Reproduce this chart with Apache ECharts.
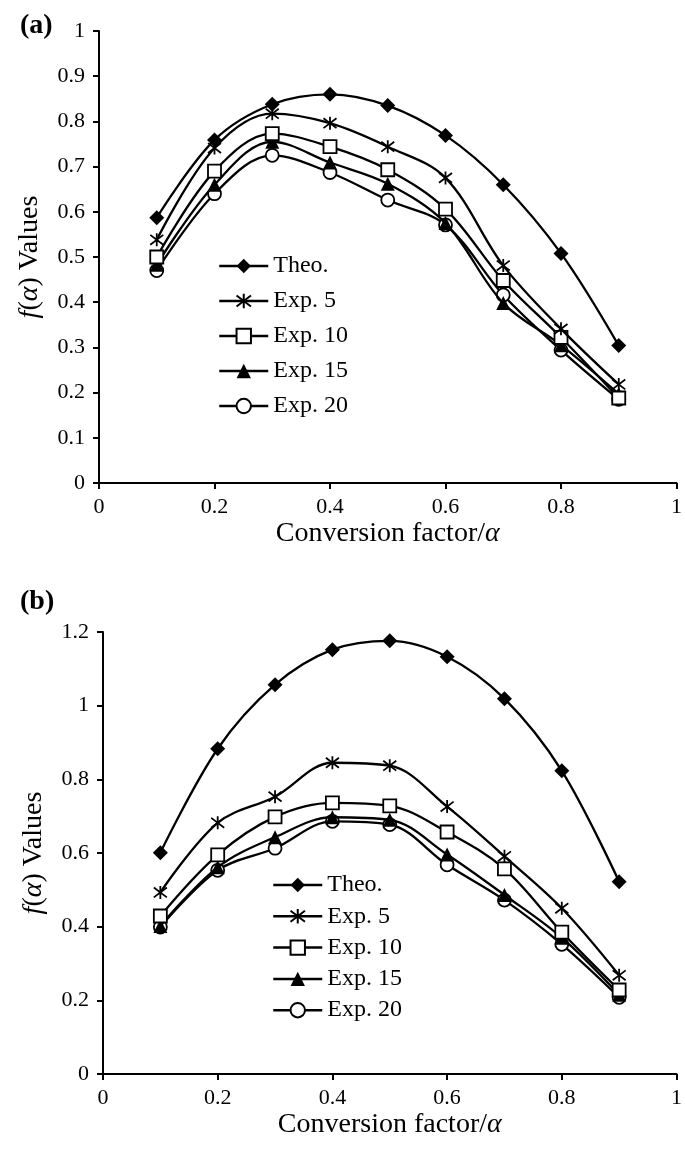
<!DOCTYPE html>
<html>
<head>
<meta charset="utf-8">
<script src="https://cdn.jsdelivr.net/npm/echarts@6/dist/echarts.min.js"></script>
<style>
html,body{margin:0;padding:0;background:#fff;}
#chart{width:685px;height:1159px;}
</style>
</head>
<body>
<div id="chart"></div>
<script>
// ---- data ----
const alphaValues = [0.1, 0.2, 0.3, 0.4, 0.5, 0.6, 0.7, 0.8, 0.9];
const seriesNames = ['Theo.', 'Exp. 5', 'Exp. 10', 'Exp. 15', 'Exp. 20'];

// Panel (a)
const aTheo  = [0.587, 0.759, 0.838, 0.860, 0.835, 0.769, 0.660, 0.508, 0.304];
const aExp5  = [0.538, 0.741, 0.817, 0.796, 0.744, 0.675, 0.481, 0.341, 0.218];
const aExp10 = [0.500, 0.690, 0.773, 0.744, 0.693, 0.606, 0.448, 0.322, 0.188];
const aExp15 = [0.483, 0.660, 0.755, 0.709, 0.662, 0.575, 0.398, 0.305, 0.197];
const aExp20 = [0.470, 0.640, 0.725, 0.687, 0.626, 0.571, 0.416, 0.294, 0.185];

// Panel (b)
const bTheo  = [0.601, 0.883, 1.057, 1.152, 1.176, 1.133, 1.019, 0.823, 0.522];
const bExp5  = [0.493, 0.682, 0.753, 0.845, 0.837, 0.726, 0.591, 0.450, 0.268];
const bExp10 = [0.429, 0.595, 0.698, 0.736, 0.728, 0.657, 0.557, 0.385, 0.228];
const bExp15 = [0.402, 0.561, 0.643, 0.697, 0.690, 0.596, 0.486, 0.370, 0.215];
const bExp20 = [0.399, 0.553, 0.613, 0.686, 0.677, 0.568, 0.472, 0.352, 0.208];

const xTitleText = 'Conversion factor/';
const yTitleText = 'Values';

// ---- styles ----
const FONT = 'Liberation Serif';
const asterisk = 'path://M5,0L5,10M1.2,1.2L8.8,8.8M8.8,1.2L1.2,8.8';
const markerStyles = [
  {symbol: 'diamond', symbolSize: 15, itemStyle: {color: '#000'}},
  {symbol: asterisk, symbolSize: 13, itemStyle: {color: '#000', borderColor: '#000', borderWidth: 1.8}},
  {symbol: 'rect', symbolSize: 13, itemStyle: {color: '#fff', borderColor: '#000', borderWidth: 1.8}},
  {symbol: 'triangle', symbolSize: 14, itemStyle: {color: '#000'}},
  {symbol: 'circle', symbolSize: 13, itemStyle: {color: '#fff', borderColor: '#000', borderWidth: 1.8}}
];

function pairs(vals) { return alphaValues.map((x, i) => [x, vals[i]]); }

function makeSeries(dataSets, gridIdx) {
  return dataSets.map((vals, i) => Object.assign({
    name: seriesNames[i],
    type: 'line',
    xAxisIndex: gridIdx,
    yAxisIndex: gridIdx,
    data: pairs(vals),
    smooth: 0.35,
    showAllSymbol: true,
    lineStyle: {color: '#000', width: 2.3},
    emphasis: {disabled: true},
    z: 10 - i
  }, markerStyles[i]));
}

const axisLineStyle = {show: true, lineStyle: {color: '#000', width: 2}};
const tickStyle = {show: true, inside: false, length: 6, lineStyle: {color: '#000', width: 2}};
const labelStyle = {color: '#000', fontFamily: FONT, fontSize: 22};
const titleRich = {
  i: {fontFamily: FONT, fontStyle: 'italic', fontSize: 28, color: '#000'},
  n: {fontFamily: FONT, fontSize: 28, color: '#000'}
};

function xAxis(gridIdx) {
  return {
    type: 'value', gridIndex: gridIdx, min: 0, max: 1, interval: 0.2,
    axisLine: axisLineStyle, axisTick: tickStyle, splitLine: {show: false},
    axisLabel: Object.assign({margin: 13}, labelStyle),
    name: '{n|' + xTitleText + '}{i|α}',
    nameLocation: 'middle', nameGap: 37,
    nameTextStyle: {rich: titleRich}
  };
}
function yAxis(gridIdx, max, interval) {
  return {
    type: 'value', gridIndex: gridIdx, min: 0, max: max, interval: interval,
    axisLine: axisLineStyle, axisTick: tickStyle, splitLine: {show: false},
    axisLabel: Object.assign({margin: 14}, labelStyle),
    name: '{i|f}{n|(}{i|α}{n|) ' + yTitleText + '}',
    nameLocation: 'middle', nameGap: 55, nameRotate: 90,
    nameTextStyle: {rich: titleRich}
  };
}

function legend(left, top, gap) {
  return {
    orient: 'vertical', left: left, top: top, padding: 0,
    itemWidth: 49, itemHeight: 18, itemGap: gap,
    selectedMode: false,
    data: seriesNames,
    lineStyle: {width: 2.5},
    textStyle: {fontFamily: FONT, fontSize: 24, color: '#000', lineHeight: 24, padding: [0, 0, 0, 0]}
  };
}

const chart = echarts.init(document.getElementById('chart'), null, {renderer: 'canvas'});
chart.setOption({
  backgroundColor: '#fff',
  animation: false,
  grid: [
    {left: 99, top: 31, width: 578, height: 452},
    {left: 103, top: 632, width: 574, height: 442}
  ],
  xAxis: [xAxis(0), xAxis(1)],
  yAxis: [yAxis(0, 1, 0.1), yAxis(1, 1.2, 0.2)],
  legend: [legend(218, 254, 11), legend(272, 873, 7.3)],
  graphic: [
    {type: 'text', left: 20, top: 12, style: {text: '(a)', font: 'bold 28px "Liberation Serif"', fill: '#000'}},
    {type: 'text', left: 20, top: 588, style: {text: '(b)', font: 'bold 28px "Liberation Serif"', fill: '#000'}}
  ],
  series: makeSeries([aTheo, aExp5, aExp10, aExp15, aExp20], 0)
    .concat(makeSeries([bTheo, bExp5, bExp10, bExp15, bExp20], 1))
});
</script>
</body>
</html>
